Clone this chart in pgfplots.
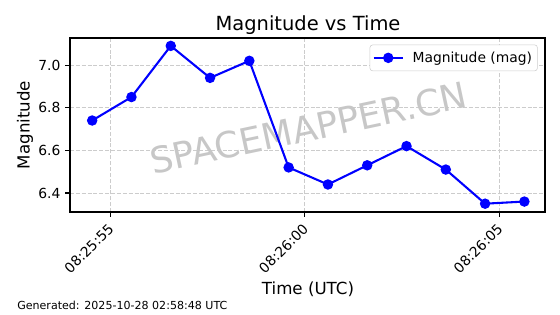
\documentclass[border=0pt]{standalone}
\usepackage{pgfplots}
\pgfplotsset{compat=1.18}
\usepackage{fontspec}
\setmainfont{DejaVu Sans}
\begin{document}
\begin{tikzpicture}
\begin{axis}[
  at={(52.5pt,76.5pt)}, anchor=south west,
  scale only axis, width=356.25pt, height=130.5pt,
  xmin=53.97, xmax=66.18, ymin=6.311, ymax=7.127,
  xtick={55,60,65}, xticklabels={08:25:55,08:26:00,08:26:05},
  ytick={6.4,6.6,6.8,7.0},
  yticklabel style={/pgf/number format/.cd, fixed, fixed zerofill, precision=1},
  /pgf/number format/assume math mode=true,
  tick label style={font=\fontsize{10.4}{12}\selectfont, black},
  xticklabel style={rotate=45, anchor=north east, inner sep=1.5pt, xshift=-3pt},
  tick align=outside, tick pos=left, major tick length=3.65pt,
  every tick/.style={black, line width=0.8pt},
  axis line style={line width=0.8pt},
  grid=major,
  major grid style={dash pattern=on 3pt off 1.4pt, gray!40, line width=0.75pt},
  legend style={at={(rel axis cs:1,1)}, anchor=north east, xshift=-5.5pt, yshift=-5pt,
    draw=black!20, rounded corners=2pt, font=\fontsize{10.4}{12}\selectfont, inner xsep=2pt, inner ysep=3pt},
  legend image code/.code={\draw[mark repeat=2,mark phase=2] plot coordinates {(0cm,0cm)(0.385cm,0cm)(0.77cm,0cm)}; \path (0.77cm+4.5pt,0cm);},
]
\node[rotate=12, text=black!22, font=\fontsize{27}{32}\selectfont] at (axis cs:60.1,6.705) {SPACEMAPPER.CN};
\addplot[color={rgb,255:red,0;green,0;blue,255}, line width=1.56pt, mark=*, mark size=3.1pt,
  mark options={solid}] coordinates {
(54.54,6.74) (55.55,6.85) (56.56,7.09) (57.57,6.94) (58.58,7.02) (59.59,6.52)
(60.60,6.44) (61.61,6.53) (62.62,6.62) (63.63,6.51) (64.64,6.35) (65.65,6.36)
};
\addlegendentry{Magnitude (mag)}
\end{axis}
\node[font=\fontsize{14.6}{17}\selectfont] at (231pt,216.75pt) {Magnitude vs Time};
\node[font=\fontsize{12.5}{15}\selectfont] at (231pt,18.75pt) {Time (UTC)};
\node[font=\fontsize{12.5}{15}\selectfont, rotate=90] at (18.75pt,141.75pt) {Magnitude};
\node[font=\fontsize{8.3}{10}\selectfont, anchor=west, inner sep=0pt] at (12.75pt,6.75pt) {Generated: 2025-10-28 02:58:48 UTC};
\pgfresetboundingbox
\useasboundingbox (0,0) rectangle (420pt,235.5pt);
\end{tikzpicture}
\end{document}
